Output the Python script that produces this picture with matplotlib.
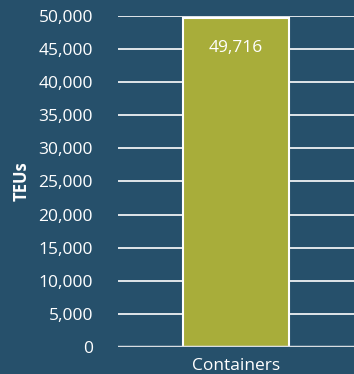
import matplotlib
matplotlib.use('Agg')
import matplotlib.pyplot as plt
from matplotlib.ticker import FuncFormatter

categories = ['Containers']
teus = [49716]
yticks = list(range(0, 50001, 5000))

bg = '#26506b'
bar_color = '#a8ad3a'

plt.rcParams['font.family'] = ['Open Sans', 'DejaVu Sans']

fig = plt.figure(figsize=(3.54, 3.74), dpi=100, facecolor=bg)
ax = fig.add_axes([118 / 354, 27 / 374, 236 / 354, 331 / 374], facecolor=bg)

ax.set_axisbelow(True)
ax.yaxis.grid(True, color='white', linewidth=1.2)
bars = ax.bar(categories, teus, width=0.45, color=bar_color,
              edgecolor='white', linewidth=1.5, zorder=3)

# value label sits just under the top of the bar
for b, v in zip(bars, teus):
    ax.text(b.get_x() + b.get_width() / 2, v - 4500, f'{v:,}',
            ha='center', va='center', color='white', fontsize=12.5, zorder=4)

ax.set_xlim(-0.5, 0.5)
ax.set_ylim(0, 50000)
ax.set_yticks(yticks)
ax.yaxis.set_major_formatter(FuncFormatter(lambda v, p: f'{int(v):,}'))

for s in ax.spines.values():
    s.set_visible(False)
ax.tick_params(axis='y', length=0, pad=18, colors='white', labelsize=12.5)
ax.tick_params(axis='x', length=0, pad=8, colors='white', labelsize=12.5)
ax.axhline(0, color='#d8dde2', linewidth=2.5, zorder=4)

ax.set_ylabel('TEUs', color='white', fontsize=12, fontweight='bold', labelpad=6)

fig.savefig('out.png', dpi=100, facecolor=bg)
